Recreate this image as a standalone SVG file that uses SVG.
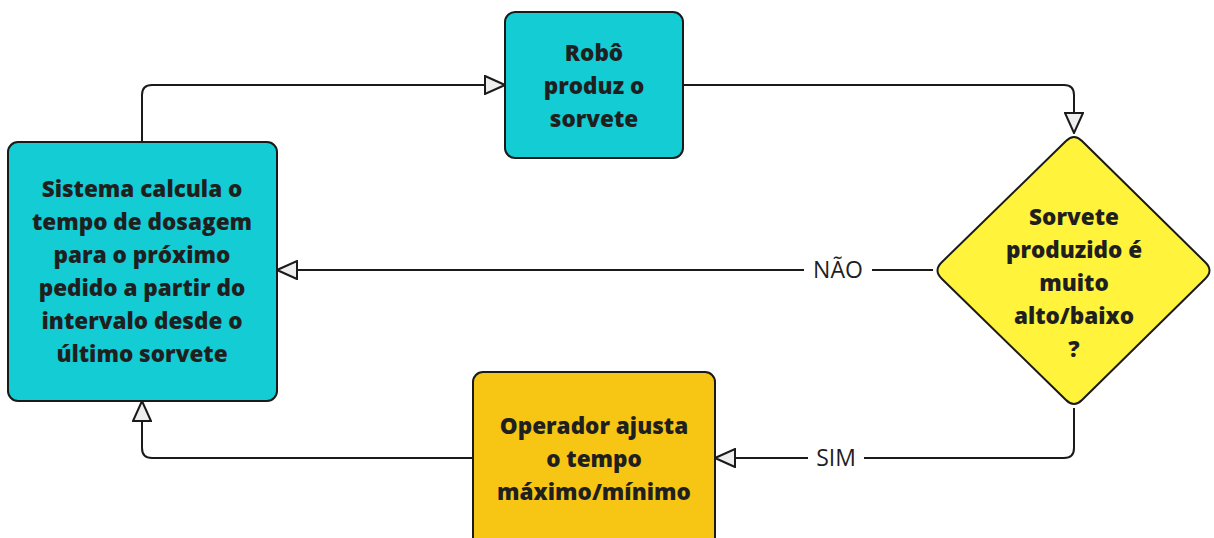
<svg xmlns="http://www.w3.org/2000/svg" width="1214" height="538" viewBox="0 0 1214 538">
<defs>
<marker id="arr" viewBox="0 0 22 20" refX="21" refY="10" markerWidth="22" markerHeight="20" markerUnits="userSpaceOnUse" orient="auto">
<path d="M1,1 L21,10 L1,19 Z" fill="#eeeeee" stroke="#1a1a1a" stroke-width="2" stroke-linejoin="miter"/>
</marker>
<style>
.node{stroke:#1a1a1a;stroke-width:2}
.t{font-family:"Open Sans","Noto Sans",sans-serif;font-weight:800;font-size:22.5px;fill:#1f1f1f;text-anchor:middle}
.lbl{font-family:"Open Sans","Noto Sans",sans-serif;font-size:23px;fill:#1f1f1f;text-anchor:middle}
.c{fill:none;stroke:#1a1a1a;stroke-width:2}
</style>
</defs>
<rect width="1214" height="538" fill="#ffffff"/>
<g id="connectors">
<path class="c" d="M142,142 V95 Q142,85 152,85 H505" marker-end="url(#arr)"/>
<path class="c" d="M683,85 H1064 Q1074,85 1074,95 V133" marker-end="url(#arr)"/>
<path class="c" d="M933,270 H277" marker-end="url(#arr)"/>
<path class="c" d="M1074,408 V448 Q1074,458 1064,458 H715" marker-end="url(#arr)"/>
<path class="c" d="M473,458 H152 Q142,458 142,448 V401" marker-end="url(#arr)"/>
<rect x="804" y="254" width="68" height="32" fill="#ffffff"/>
<text class="lbl" x="838" y="278">NÃO</text>
<rect x="808" y="442" width="56" height="32" fill="#ffffff"/>
<text class="lbl" x="836" y="466">SIM</text>
</g>
<g id="n1">
<rect class="node" x="8" y="142" width="269" height="259" rx="10" fill="#13ccd4"/>
<text class="t" x="142" y="197">Sistema calcula o</text>
<text class="t" x="142" y="230">tempo de dosagem</text>
<text class="t" x="142" y="263">para o próximo</text>
<text class="t" x="142" y="296">pedido a partir do</text>
<text class="t" x="142" y="329">intervalo desde o</text>
<text class="t" x="142" y="362">último sorvete</text>
</g>
<g id="n2">
<rect class="node" x="505" y="12" width="178" height="146" rx="10" fill="#13ccd4"/>
<text class="t" x="594" y="61">Robô</text>
<text class="t" x="594" y="94">produz o</text>
<text class="t" x="594" y="127">sorvete</text>
</g>
<g id="n3">
<path class="node" d="M1066,141 Q1074,133 1082,141 L1205,262 Q1214,270.5 1205,279 L1082,400 Q1074,408 1066,400 L942,279 Q933,270.5 942,262 Z" fill="#fff33b"/>
<text class="t" x="1074" y="225">Sorvete</text>
<text class="t" x="1074" y="258">produzido é</text>
<text class="t" x="1074" y="291">muito</text>
<text class="t" x="1074" y="324">alto/baixo</text>
<text class="t" x="1074" y="357">?</text>
</g>
<g id="n4">
<rect class="node" x="473" y="372" width="242" height="176" rx="10" fill="#f7c614"/>
<text class="t" x="594" y="434">Operador ajusta</text>
<text class="t" x="594" y="467">o tempo</text>
<text class="t" x="594" y="500">máximo/mínimo</text>
</g>
</svg>
